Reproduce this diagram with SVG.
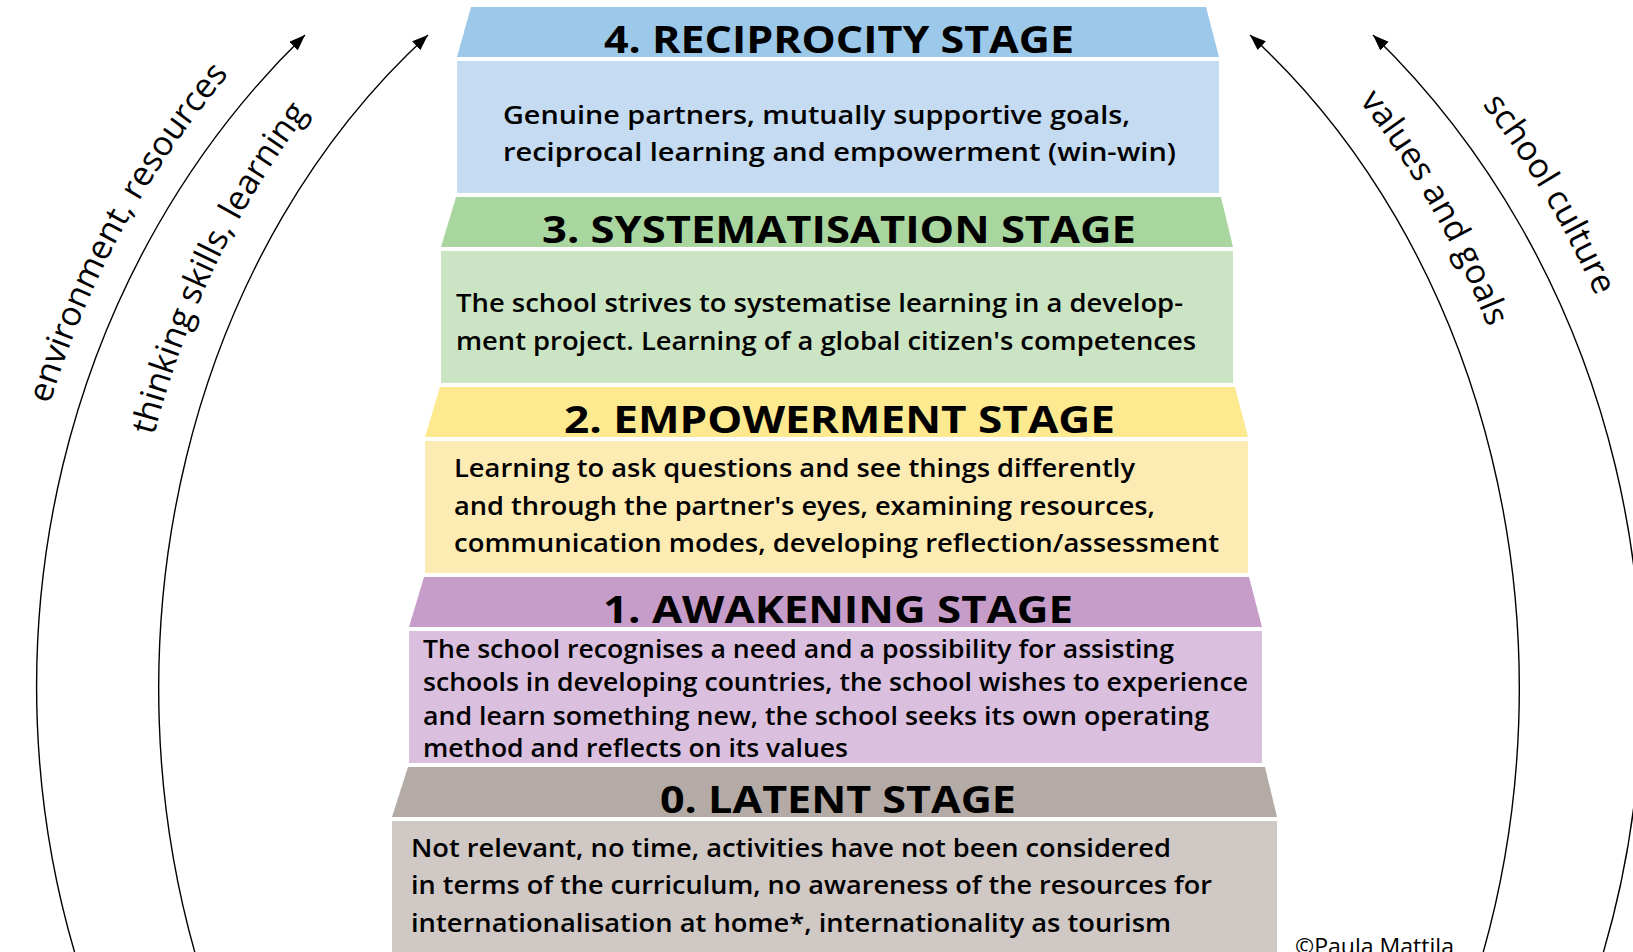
<svg xmlns="http://www.w3.org/2000/svg" width="1633" height="952" viewBox="0 0 1633 952">
<style>
.hd{font-family:"Open Sans","Liberation Sans",sans-serif;font-weight:700;font-size:37px;fill:#000}
.bd{font-family:"Open Sans","Liberation Sans",sans-serif;font-weight:600;font-size:25px;fill:#000}
.arc{fill:none;stroke:#000;stroke-width:1.4}
.lbl{font-family:"Open Sans","Liberation Sans",sans-serif;font-weight:400;font-size:34px;fill:#000}
.cp{font-family:"Open Sans","Liberation Sans",sans-serif;font-weight:400;font-size:21px;fill:#000}
</style>
<defs>
<marker id="ah" markerUnits="userSpaceOnUse" markerWidth="18" markerHeight="14" refX="16" refY="6" orient="auto">
<path d="M0,0 L16,6 L0,12 z" fill="#000"/>
</marker>
<path id="tpLO" d="M 58.1 995.5 A 831 902 0 0 1 694.7 -201.3"/>
<path id="tpLI" d="M 165.2 982.1 A 717 857 0 0 1 714.5 -155"/>
<path id="tpRI" d="M 963.3 -154 A 716 856 0 0 1 1511.8 981.8"/>
<path id="tpRO" d="M 984.5 -208.2 A 838 909 0 0 1 1626.5 997.9"/>
</defs>
<rect width="1633" height="952" fill="#fff"/>

<g id="connectors">
<path class="arc" d="M 80 970 A 802 873 0 0 1 305 35" marker-end="url(#ah)"/>
<path class="arc" d="M 200 970 A 680 820 0 0 1 428 35" marker-end="url(#ah)"/>
<path class="arc" d="M 1478 970 A 680 820 0 0 0 1250 35" marker-end="url(#ah)"/>
<path class="arc" d="M 1598 970 A 802 873 0 0 0 1373 35" marker-end="url(#ah)"/>
</g>

<g id="labels">
<text class="lbl"><textPath href="#tpLO" startOffset="51.6%" text-anchor="middle">environment, resources</textPath></text>
<text class="lbl"><textPath href="#tpLI" startOffset="52%" text-anchor="middle">thinking skills, learning</textPath></text>
<text class="lbl"><textPath href="#tpRI" startOffset="43.4%" text-anchor="middle">values and goals</textPath></text>
<text class="lbl"><textPath href="#tpRO" startOffset="46.2%" text-anchor="middle">school culture</textPath></text>
</g>

<g id="stage4">
<polygon points="471,7 1206,7 1219,57 457,57" fill="#9cc8e9"/>
<rect x="457" y="61" width="762" height="132" fill="#c4dbf1"/>
<text class="hd" x="604" y="52.5" textLength="470" lengthAdjust="spacingAndGlyphs">4. RECIPROCITY STAGE</text>
<text class="bd" x="503" y="124" textLength="627" lengthAdjust="spacingAndGlyphs">Genuine partners, mutually supportive goals,</text>
<text class="bd" x="503" y="161" textLength="673" lengthAdjust="spacingAndGlyphs">reciprocal learning and empowerment (win-win)</text>
</g>

<g id="stage3">
<polygon points="456,197 1221,197 1233,247 441,247" fill="#a9d59f"/>
<rect x="441" y="251" width="792" height="132" fill="#cbe4c3"/>
<text class="hd" x="542" y="242.5" textLength="594" lengthAdjust="spacingAndGlyphs">3. SYSTEMATISATION STAGE</text>
<text class="bd" x="456" y="312" textLength="727" lengthAdjust="spacingAndGlyphs">The school strives to systematise learning in a develop-</text>
<text class="bd" x="456" y="350" textLength="740" lengthAdjust="spacingAndGlyphs">ment project. Learning of a global citizen's competences</text>
</g>

<g id="stage2">
<polygon points="440,387 1235,387 1248,437 425,437" fill="#fde98f"/>
<rect x="425" y="441" width="823" height="132" fill="#fdebb4"/>
<text class="hd" x="564" y="432.5" textLength="551" lengthAdjust="spacingAndGlyphs">2. EMPOWERMENT STAGE</text>
<text class="bd" x="454" y="477" textLength="681" lengthAdjust="spacingAndGlyphs">Learning to ask questions and see things differently</text>
<text class="bd" x="454" y="515" textLength="701" lengthAdjust="spacingAndGlyphs">and through the partner's eyes, examining resources,</text>
<text class="bd" x="454" y="552" textLength="765" lengthAdjust="spacingAndGlyphs">communication modes, developing reflection/assessment</text>
</g>

<g id="stage1">
<polygon points="424,577 1249,577 1262,627 409,627" fill="#c69dc9"/>
<rect x="409" y="631" width="853" height="132" fill="#dabfde"/>
<text class="hd" x="603" y="622.5" textLength="470" lengthAdjust="spacingAndGlyphs">1. AWAKENING STAGE</text>
<text class="bd" x="423" y="658" textLength="751" lengthAdjust="spacingAndGlyphs">The school recognises a need and a possibility for assisting</text>
<text class="bd" x="423" y="691" textLength="825" lengthAdjust="spacingAndGlyphs">schools in developing countries, the school wishes to experience</text>
<text class="bd" x="423" y="725" textLength="786" lengthAdjust="spacingAndGlyphs">and learn something new, the school seeks its own operating</text>
<text class="bd" x="423" y="757" textLength="425" lengthAdjust="spacingAndGlyphs">method and reflects on its values</text>
</g>

<g id="stage0">
<polygon points="408,767 1265,767 1277,817 392,817" fill="#b4aaa6"/>
<rect x="392" y="821" width="885" height="140" fill="#d0c8c4"/>
<text class="hd" x="660" y="812.5" textLength="356" lengthAdjust="spacingAndGlyphs">0. LATENT STAGE</text>
<text class="bd" x="411" y="857" textLength="760" lengthAdjust="spacingAndGlyphs">Not relevant, no time, activities have not been considered</text>
<text class="bd" x="411" y="894" textLength="801" lengthAdjust="spacingAndGlyphs">in terms of the curriculum, no awareness of the resources for</text>
<text class="bd" x="411" y="932" textLength="760" lengthAdjust="spacingAndGlyphs">internationalisation at home*, internationality as tourism</text>
</g>

<g id="copyright">
<text class="cp" x="1295" y="954" textLength="159" lengthAdjust="spacingAndGlyphs">©Paula Mattila</text>
</g>
</svg>
